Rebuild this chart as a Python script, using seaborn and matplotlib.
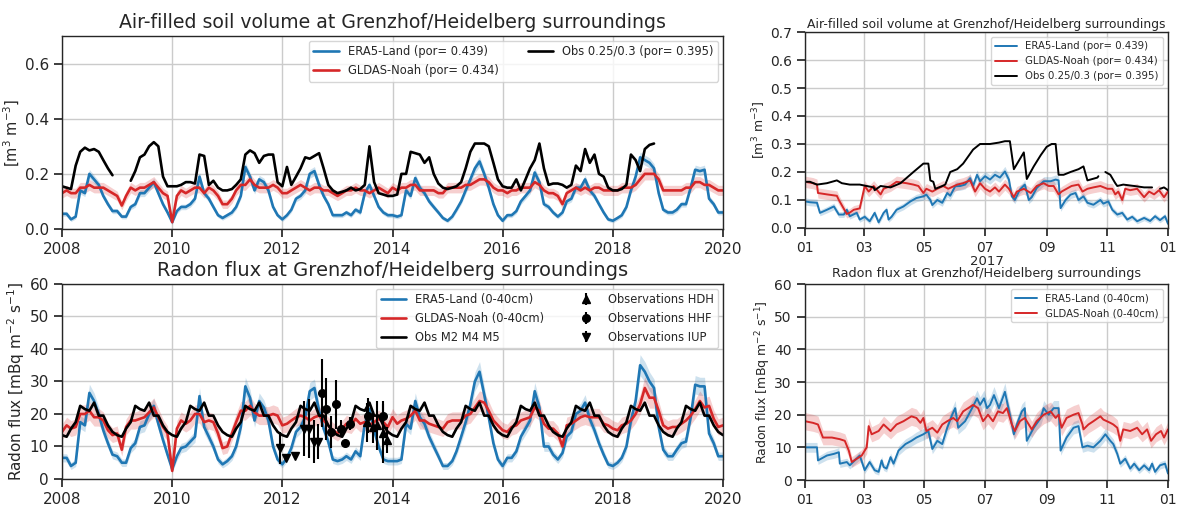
import numpy as np
import pandas as pd
import matplotlib
matplotlib.use("Agg")
import matplotlib.pyplot as plt
import matplotlib.dates as mdates
import seaborn as sns

# ---------------------------------------------------------------------------
# Monthly series 2008-01 .. 2020-01 (values at the start of each month)
# ---------------------------------------------------------------------------
era5_air = [
    0.055, 0.055, 0.035, 0.045, 0.14, 0.13, 0.20, 0.18, 0.16, 0.12, 0.09, 0.065,   # 2008
    0.065, 0.045, 0.045, 0.08, 0.09, 0.13, 0.13, 0.15, 0.17, 0.13, 0.09, 0.06,     # 2009
    0.025, 0.065, 0.08, 0.08, 0.09, 0.11, 0.19, 0.13, 0.11, 0.08, 0.05, 0.04,      # 2010
    0.05, 0.06, 0.08, 0.12, 0.225, 0.19, 0.14, 0.18, 0.17, 0.14, 0.08, 0.05,       # 2011
    0.035, 0.05, 0.07, 0.11, 0.12, 0.14, 0.20, 0.21, 0.16, 0.12, 0.09, 0.05,       # 2012
    0.05, 0.05, 0.06, 0.05, 0.07, 0.06, 0.13, 0.16, 0.12, 0.08, 0.06, 0.05,        # 2013
    0.05, 0.045, 0.05, 0.14, 0.12, 0.185, 0.15, 0.13, 0.10, 0.08, 0.06, 0.04,      # 2014
    0.03, 0.045, 0.07, 0.10, 0.14, 0.18, 0.22, 0.245, 0.20, 0.15, 0.09, 0.05,      # 2015
    0.03, 0.05, 0.05, 0.065, 0.10, 0.12, 0.14, 0.205, 0.17, 0.09, 0.08, 0.06,      # 2016
    0.045, 0.06, 0.10, 0.11, 0.15, 0.15, 0.18, 0.14, 0.12, 0.09, 0.06, 0.035,      # 2017
    0.03, 0.04, 0.05, 0.08, 0.14, 0.19, 0.26, 0.25, 0.24, 0.22, 0.13, 0.07,        # 2018
    0.06, 0.06, 0.07, 0.09, 0.09, 0.15, 0.215, 0.21, 0.215, 0.11, 0.09, 0.06,      # 2019
    0.06,                                                                          # 2020
]
gldas_air = [
    0.13, 0.14, 0.13, 0.13, 0.15, 0.15, 0.16, 0.15, 0.15, 0.15, 0.14, 0.13,
    0.12, 0.085, 0.12, 0.15, 0.14, 0.15, 0.15, 0.16, 0.17, 0.15, 0.13, 0.12,
    0.025, 0.12, 0.14, 0.13, 0.14, 0.15, 0.15, 0.13, 0.15, 0.14, 0.12, 0.09,
    0.09, 0.11, 0.14, 0.16, 0.16, 0.18, 0.16, 0.15, 0.15, 0.15, 0.16, 0.15,
    0.13, 0.13, 0.14, 0.15, 0.16, 0.15, 0.14, 0.15, 0.15, 0.14, 0.14, 0.13,
    0.12, 0.13, 0.14, 0.14, 0.15, 0.14, 0.14, 0.13, 0.14, 0.15, 0.14, 0.13,
    0.15, 0.14, 0.15, 0.15, 0.16, 0.16, 0.14, 0.14, 0.14, 0.14, 0.13, 0.13,
    0.15, 0.15, 0.15, 0.15, 0.16, 0.16, 0.17, 0.18, 0.18, 0.17, 0.15, 0.14,
    0.14, 0.13, 0.14, 0.14, 0.15, 0.15, 0.15, 0.17, 0.16, 0.14, 0.13, 0.13,
    0.12, 0.09, 0.13, 0.14, 0.15, 0.14, 0.15, 0.14, 0.15, 0.15, 0.14, 0.14,
    0.14, 0.14, 0.15, 0.15, 0.15, 0.16, 0.18, 0.20, 0.20, 0.20, 0.18, 0.14,
    0.14, 0.14, 0.14, 0.14, 0.15, 0.15, 0.17, 0.17, 0.16, 0.16, 0.15, 0.14,
    0.14,
]
nan = np.nan
obs_air = [
    0.155, 0.15, 0.145, 0.23, 0.28, 0.295, 0.285, 0.29, 0.28, 0.25, 0.22, 0.195,
    nan, nan, nan, 0.175, 0.21, 0.26, 0.27, 0.30, 0.315, 0.30, 0.19, 0.155,
    0.155, 0.155, 0.16, 0.17, 0.17, 0.165, 0.27, 0.265, 0.16, 0.175, 0.15, 0.14,
    0.14, 0.145, 0.16, 0.18, 0.27, 0.285, 0.275, 0.24, 0.265, 0.27, 0.27, 0.17,
    0.155, 0.225, 0.16, 0.19, 0.22, 0.26, 0.255, 0.265, 0.275, 0.22, 0.16, 0.14,
    0.13, 0.135, 0.14, 0.15, 0.14, 0.145, 0.16, 0.30, 0.17, 0.13, 0.125, 0.12,
    0.12, 0.125, 0.20, 0.20, 0.28, 0.275, 0.27, 0.24, 0.26, 0.20, 0.165, 0.15,
    0.145, 0.15, 0.155, 0.17, 0.22, 0.28, 0.31, 0.31, 0.31, 0.30, 0.24, 0.18,
    0.155, 0.15, 0.15, 0.18, 0.14, 0.18, 0.22, 0.25, 0.31, 0.22, 0.16, 0.165,
    0.165, 0.16, 0.15, 0.16, 0.23, 0.21, 0.29, 0.24, 0.27, 0.20, 0.19, 0.15,
    0.14, 0.14, 0.145, 0.16, 0.27, 0.25, 0.21, 0.29, 0.305, 0.31, nan, nan,
    nan, nan, nan, nan, nan, nan, nan, nan, nan, nan, nan, nan,
    nan,
]

era5_flux = [
    6.5, 6.5, 4.0, 5.0, 17.5, 16.5, 26.5, 24.0, 20.0, 15.0, 11.0, 7.5,
    7.0, 5.0, 5.0, 9.5, 11.0, 16.0, 16.5, 20.0, 22.5, 17.0, 12.0, 7.5,
    3.0, 7.0, 9.5, 10.0, 11.5, 13.0, 25.5, 16.0, 13.0, 10.0, 6.0, 4.5,
    5.5, 7.0, 10.0, 16.0, 28.5, 25.0, 18.0, 24.0, 22.0, 18.0, 10.0, 6.0,
    4.5, 6.5, 9.5, 14.5, 16.0, 19.0, 27.0, 28.0, 21.0, 15.5, 11.5, 6.0,
    5.5, 6.0, 7.0, 6.0, 8.5, 7.0, 17.0, 21.5, 15.0, 10.0, 6.0, 5.5,
    5.5, 5.5, 6.0, 17.0, 15.5, 24.0, 19.0, 17.0, 13.0, 10.0, 7.0, 4.0,
    4.0, 5.5, 8.5, 13.0, 17.5, 23.0, 30.0, 33.0, 26.0, 19.0, 11.0, 6.0,
    4.0, 6.5, 6.5, 8.5, 13.0, 15.5, 18.0, 27.0, 22.0, 10.0, 10.0, 7.5,
    6.0, 8.0, 13.0, 14.5, 20.0, 21.0, 23.5, 18.5, 15.0, 11.0, 7.5, 4.5,
    4.0, 5.0, 6.5, 10.0, 18.0, 24.0, 35.0, 33.0, 30.0, 28.0, 16.0, 9.0,
    7.0, 7.0, 9.0, 11.0, 11.5, 19.0, 29.0, 28.5, 28.5, 14.0, 11.0, 7.0,
    7.0,
]
gldas_flux = [
    14.5, 16.5, 15.5, 16.0, 20.0, 20.0, 21.0, 19.0, 19.0, 18.0, 15.0, 13.5,
    14.0, 9.0, 16.0, 18.0, 18.0, 18.5, 19.0, 20.5, 22.0, 19.0, 16.0, 14.0,
    2.5, 15.5, 18.0, 17.0, 18.0, 20.0, 20.0, 17.5, 18.0, 17.5, 14.0, 9.5,
    10.0, 14.0, 17.5, 21.0, 21.0, 22.5, 20.5, 19.5, 19.5, 19.5, 20.0, 19.5,
    16.5, 17.0, 18.0, 19.0, 19.5, 19.0, 18.0, 19.0, 19.5, 18.0, 16.5, 15.0,
    14.0, 15.5, 17.0, 16.5, 18.5, 17.0, 17.5, 16.5, 17.5, 18.5, 17.5, 16.0,
    19.0, 17.0, 18.0, 18.5, 19.5, 21.0, 18.0, 18.0, 17.0, 16.5, 16.0, 15.5,
    17.5, 18.0, 18.0, 18.0, 19.5, 20.0, 22.0, 24.0, 23.5, 21.0, 18.0, 16.5,
    15.0, 14.5, 16.0, 16.5, 18.0, 18.5, 19.0, 22.0, 21.0, 17.0, 15.5, 15.5,
    14.0, 10.0, 16.5, 17.0, 18.0, 19.0, 19.5, 19.0, 19.0, 19.0, 17.0, 16.5,
    15.5, 15.0, 16.5, 17.0, 18.0, 20.0, 23.0, 28.0, 25.0, 25.0, 21.0, 16.5,
    15.5, 16.0, 16.0, 17.0, 18.0, 19.5, 21.5, 24.0, 22.0, 22.5, 18.5, 16.0,
    16.5,
]
obs_flux = [
    13.5, 13.0, 15.5, 17.5, 22.5, 21.5, 21.0, 23.5, 19.5, 19.5, 16.5, 14.5,
    13.5, 13.0, 15.5, 17.5, 22.5, 21.5, 21.0, 23.5, 19.5, 19.5, 16.5, 14.5,
    13.5, 13.0, 15.5, 17.5, 22.5, 21.5, 21.0, 23.5, 19.5, 19.5, 16.5, 14.5,
    13.5, 13.0, 15.5, 17.5, 22.5, 21.5, 21.0, 23.5, 19.5, 19.5, 16.5, 14.5,
    13.5, 13.0, 15.5, 17.5, 22.5, 21.5, 21.0, 23.5, 19.5, 19.5, 16.5, 14.5,
    13.5, 13.0, 15.5, 17.5, 22.5, 21.5, 21.0, 23.5, 19.5, 19.5, 16.5, 14.5,
    13.5, 13.0, 15.5, 17.5, 22.5, 21.5, 21.0, 23.5, 19.5, 19.5, 16.5, 14.5,
    13.5, 13.0, 15.5, 17.5, 22.5, 21.5, 21.0, 23.5, 19.5, 19.5, 16.5, 14.5,
    13.5, 13.0, 15.5, 17.5, 22.5, 21.5, 21.0, 23.5, 19.5, 19.5, 16.5, 14.5,
    13.5, 13.0, 15.5, 17.5, 22.5, 21.5, 21.0, 23.5, 19.5, 19.5, 16.5, 14.5,
    13.5, 13.0, 15.5, 17.5, 22.5, 21.5, 21.0, 23.5, 19.5, 19.5, 16.5, 14.5,
    13.5, 13.0, 15.5, 17.5, 22.5, 21.5, 21.0, 23.5, 19.5, 19.5, 16.5, 14.5,
    13.5,
]

# Campaign measurements of radon flux (value, 1-sigma)
hdh_dates = ["2013-07-18", "2013-08-22", "2013-09-20", "2013-10-27", "2013-11-25"]
hdh_flux = [17.5, 16.0, 16.5, 14.0, 12.0]
hdh_err = [6.0, 5.0, 7.5, 9.0, 4.0]

hhf_dates = ["2012-09-20", "2012-10-19", "2012-11-17", "2012-12-20", "2013-01-22",
             "2013-02-21", "2013-03-22", "2013-07-20", "2013-10-27"]
hhf_flux = [26.5, 21.5, 14.5, 23.0, 15.5, 11.0, 17.0, 19.5, 19.5]
hhf_err = [10.5, 9.5, 5.0, 7.5, 2.5, 0.5, 2.0, 5.5, 4.5]

iup_dates = ["2011-12-17", "2012-01-23", "2012-03-22", "2012-05-27", "2012-06-25",
             "2012-07-31", "2012-08-26"]
iup_flux = [9.5, 6.5, 7.0, 15.5, 15.5, 11.5, 11.5]
iup_err = [5.0, 1.0, 0.5, 8.5, 9.0, 6.5, 5.5]

# ---------------------------------------------------------------------------
# 2017 detail (day of year, value)
# ---------------------------------------------------------------------------
era5_air_17_day = [0, 5, 12, 15, 22, 29, 34, 39, 42, 45, 52, 55, 60, 65, 70, 74, 79, 82, 84, 87,
                   92, 99, 106, 112, 119, 122, 126, 128, 133, 138, 143, 146, 151, 156, 161, 166,
                   169, 173, 176, 181, 186, 191, 196, 201, 205, 208, 211, 216, 221, 225, 228,
                   233, 240, 247, 252, 255, 257, 262, 267, 272, 275, 280, 284, 290, 297, 300,
                   305, 309, 314, 319, 324, 329, 334, 341, 347, 352, 357, 362, 365]
era5_air_17 = [0.095, 0.092, 0.09, 0.054, 0.065, 0.077, 0.048, 0.048, 0.065, 0.042, 0.054, 0.03,
               0.04, 0.024, 0.054, 0.02, 0.054, 0.065, 0.03, 0.04, 0.065, 0.077, 0.095, 0.107,
               0.113, 0.119, 0.1, 0.082, 0.1, 0.09, 0.125, 0.115, 0.149, 0.15, 0.155, 0.178,
               0.15, 0.19, 0.167, 0.185, 0.173, 0.19, 0.18, 0.202, 0.173, 0.113, 0.1, 0.137,
               0.155, 0.1, 0.11, 0.143, 0.167, 0.167, 0.173, 0.17, 0.071, 0.1, 0.119, 0.125,
               0.1, 0.113, 0.09, 0.083, 0.1, 0.087, 0.095, 0.065, 0.048, 0.054, 0.03, 0.04,
               0.024, 0.036, 0.025, 0.042, 0.028, 0.042, 0.015]

gldas_air_17_day = [0, 8, 12, 13, 22, 32, 34, 42, 45, 49, 55, 60, 64, 69, 76, 79, 86, 92, 102,
                    109, 114, 119, 122, 128, 133, 139, 144, 153, 159, 166, 171, 176, 181, 186,
                    191, 195, 201, 205, 210, 213, 220, 227, 233, 240, 245, 250, 255, 258, 263,
                    268, 275, 279, 284, 290, 297, 304, 309, 312, 315, 319, 322, 327, 334, 341,
                    346, 351, 356, 361, 365]
gldas_air_17 = [0.165, 0.16, 0.155, 0.125, 0.12, 0.115, 0.1, 0.05, 0.055, 0.065, 0.07, 0.15,
                0.13, 0.15, 0.12, 0.14, 0.15, 0.165, 0.16, 0.155, 0.15, 0.125, 0.14, 0.13,
                0.14, 0.15, 0.14, 0.155, 0.16, 0.17, 0.13, 0.16, 0.14, 0.13, 0.145, 0.13,
                0.155, 0.14, 0.11, 0.13, 0.14, 0.125, 0.15, 0.16, 0.15, 0.15, 0.12, 0.13,
                0.14, 0.15, 0.155, 0.13, 0.14, 0.145, 0.15, 0.14, 0.14, 0.12, 0.13, 0.10,
                0.14, 0.135, 0.14, 0.11, 0.13, 0.12, 0.135, 0.11, 0.13]

obs_air_17_day = [0, 5, 12, 22, 32, 37, 45, 55, 62, 69, 70, 76, 86, 96, 109, 114, 119, 124, 126,
                  129, 131, 138, 141, 146, 153, 159, 169, 176, 186, 195, 201, 206, 210, 215,
                  220, 223, 230, 237, 243, 248, 252, 255, 260, 267, 275, 280, 284, 294, 295,
                  298, 302, 307, 312, 314, 320, 331, 341, 349, 353, 357, 361, 365]
obs_air_17 = [0.165, 0.165, 0.155, 0.16, 0.17, 0.16, 0.155, 0.155, 0.15, 0.145, 0.135, 0.15,
              0.145, 0.16, 0.2, 0.215, 0.23, 0.23, 0.17, 0.165, 0.14, 0.15, 0.155, 0.2, 0.21,
              0.23, 0.28, 0.3, 0.3, 0.305, 0.31, 0.31, 0.21, 0.24, 0.27, 0.175, 0.22, 0.26,
              0.29, 0.3, 0.3, 0.19, 0.19, 0.2, 0.21, 0.22, 0.17, 0.18, 0.185, nan, 0.2, 0.19,
              0.16, 0.15, 0.155, 0.15, 0.145, 0.145, nan, 0.14, 0.145, 0.135]

era5_flux_17_day = [0, 12, 13, 22, 29, 34, 35, 42, 45, 55, 60, 65, 70, 74, 77, 79, 82, 86, 89,
                    94, 101, 107, 112, 119, 124, 128, 133, 138, 143, 148, 151, 154, 161, 168,
                    173, 176, 180, 183, 186, 190, 195, 201, 206, 210, 213, 218, 221, 223, 230,
                    237, 240, 245, 250, 255, 257, 263, 270, 275, 279, 284, 290, 297, 302, 307,
                    310, 314, 317, 322, 327, 331, 336, 341, 346, 349, 352, 357, 362, 365]
era5_flux_17 = [10.0, 10.0, 6.0, 7.5, 8.0, 8.5, 5.0, 5.5, 4.5, 7.5, 3.0, 5.5, 3.0, 2.5, 6.0,
                4.0, 3.5, 7.0, 5.0, 9.0, 11.0, 12.0, 13.0, 14.0, 15.0, 9.5, 12.0, 11.0, 16.0,
                20.0, 22.0, 16.0, 18.0, 22.0, 25.0, 23.0, 25.0, 22.0, 23.0, 26.0, 22.0, 27.0,
                20.0, 14.0, 17.0, 21.0, 22.0, 12.0, 16.0, 19.0, 22.0, 20.0, 22.0, 22.0, 9.0,
                13.0, 16.0, 16.5, 10.0, 10.5, 10.0, 12.0, 14.0, 12.0, 11.0, 8.0, 5.0, 6.5,
                3.5, 5.0, 3.0, 4.5, 3.0, 5.0, 2.5, 4.5, 5.0, 2.0]

gldas_flux_17_day = [0, 8, 13, 18, 27, 35, 40, 44, 47, 52, 57, 62, 64, 67, 74, 79, 86, 92, 99,
                     107, 112, 116, 119, 122, 128, 133, 138, 143, 149, 153, 159, 164, 169, 174,
                     179, 184, 189, 194, 199, 203, 208, 211, 216, 221, 228, 233, 240, 247, 252,
                     255, 258, 263, 270, 275, 279, 280, 285, 290, 297, 300, 307, 310, 314, 317,
                     320, 327, 334, 339, 344, 348, 353, 358, 361, 365]
gldas_flux_17 = [18.0, 17.5, 17.0, 13.0, 13.0, 12.5, 12.0, 9.0, 5.5, 6.5, 7.5, 10.0, 16.5, 14.0,
                 15.0, 17.0, 15.0, 17.0, 18.0, 19.5, 19.0, 17.5, 19.0, 15.0, 16.0, 14.5, 17.0,
                 18.0, 19.0, 18.0, 21.0, 22.0, 23.0, 22.0, 18.0, 20.0, 18.0, 21.0, 20.5, 22.0,
                 17.0, 15.0, 18.0, 19.0, 15.5, 18.0, 20.0, 21.0, 19.0, 20.0, 16.0, 19.0, 20.0,
                 20.5, 17.0, 15.5, 17.0, 18.0, 19.5, 18.5, 17.5, 17.0, 16.0, 12.0, 15.5, 15.0,
                 16.0, 14.0, 15.5, 12.0, 14.0, 15.0, 13.0, 15.5]

# ---------------------------------------------------------------------------
# Styling
# ---------------------------------------------------------------------------
BLUE = "#1f77b4"
RED = "#d62728"
BLACK = "black"

sns.set_theme(style="ticks", rc={
    "axes.edgecolor": "0.15",
    "xtick.color": "0.15",
    "ytick.color": "0.15",
    "axes.linewidth": 1.0,
})
plt.rcParams["font.family"] = ["DejaVu Sans"]

months = pd.date_range("2008-01-01", "2020-01-01", freq="MS")
t0 = pd.Timestamp("2017-01-01")


def day_axis(days):
    return t0 + pd.to_timedelta(np.asarray(days, dtype=float), unit="D")


def add_band(ax, x, y, abs_w, rel_w, color):
    y = np.asarray(y, dtype=float)
    w = abs_w + rel_w * y
    ax.fill_between(x, y - w, y + w, color=color, alpha=0.22, lw=0)


def model_line(ax, x, y, color, lw, label):
    sns.lineplot(x=x, y=np.asarray(y, dtype=float), ax=ax, color=color, lw=lw,
                 label=label, estimator=None, sort=False)


def style_grid(ax):
    ax.grid(True, color="#cbcbcb", lw=1.0)
    ax.set_axisbelow(True)


fig = plt.figure(figsize=(11.78, 5.08), dpi=100)
ax_air = fig.add_axes([0.0526, 0.5492, 0.5611, 0.3799])
ax_flux = fig.add_axes([0.0526, 0.0571, 0.5611, 0.3839])
ax_air17 = fig.add_axes([0.6834, 0.5512, 0.3081, 0.3858])
ax_flux17 = fig.add_axes([0.6834, 0.0551, 0.3081, 0.3858])

LW = 1.9

# --- air-filled soil volume, 2008-2020 ---
add_band(ax_air, months, era5_air, 0.006, 0.05, BLUE)
add_band(ax_air, months, gldas_air, 0.01, 0.06, RED)
model_line(ax_air, months, era5_air, BLUE, LW, "ERA5-Land (por= 0.439)")
model_line(ax_air, months, gldas_air, RED, LW, "GLDAS-Noah (por= 0.434)")
ax_air.plot(months, obs_air, color=BLACK, lw=LW, label="Obs 0.25/0.3 (por= 0.395)")
ax_air.set_ylim(0, 0.7)
ax_air.set_yticks([0.0, 0.2, 0.4, 0.6])
ax_air.set_ylabel("[m$^3$ m$^{-3}$]", fontsize=10.5, labelpad=2)
ax_air.set_title("Air-filled soil volume at Grenzhof/Heidelberg surroundings", fontsize=13.6)
ax_air.legend(ncol=2, loc="upper right", fontsize=8.3, handlelength=2.2,
              columnspacing=2.5, borderaxespad=0.4)

# --- radon flux, 2008-2020 ---
add_band(ax_flux, months, era5_flux, 0.8, 0.07, BLUE)
add_band(ax_flux, months, gldas_flux, 1.2, 0.08, RED)
model_line(ax_flux, months, era5_flux, BLUE, LW, "ERA5-Land (0-40cm)")
model_line(ax_flux, months, gldas_flux, RED, LW, "GLDAS-Noah (0-40cm)")
ax_flux.plot(months, obs_flux, color=BLACK, lw=LW, label="Obs M2 M4 M5")
eb_kw = dict(color=BLACK, ls="none", ms=5.5, elinewidth=1.5, capsize=0)
ax_flux.errorbar(pd.to_datetime(hdh_dates), hdh_flux, yerr=hdh_err, fmt="^",
                 label="Observations HDH", **eb_kw)
ax_flux.errorbar(pd.to_datetime(hhf_dates), hhf_flux, yerr=hhf_err, fmt="o",
                 label="Observations HHF", **eb_kw)
ax_flux.errorbar(pd.to_datetime(iup_dates), iup_flux, yerr=iup_err, fmt="v",
                 label="Observations IUP", **eb_kw)
ax_flux.set_ylim(0, 60)
ax_flux.set_yticks(range(0, 61, 10))
ax_flux.set_ylabel("Radon flux [mBq m$^{-2}$ s$^{-1}$]", fontsize=11, labelpad=2)
ax_flux.set_title("Radon flux at Grenzhof/Heidelberg surroundings", fontsize=14.0)
ax_flux.legend(ncol=2, loc="upper right", fontsize=8.3, handlelength=2.2,
               columnspacing=2.5, borderaxespad=0.4)

for ax in (ax_air, ax_flux):
    ax.set_xlim(pd.Timestamp("2008-01-01"), pd.Timestamp("2020-01-01"))
    ax.xaxis.set_major_locator(mdates.YearLocator(2))
    ax.xaxis.set_major_formatter(mdates.DateFormatter("%Y"))
    ax.set_xlabel("")
    ax.tick_params(labelsize=11)
    style_grid(ax)

# --- 2017 detail panels ---
LW2 = 1.4
x_era_a = day_axis(era5_air_17_day)
x_gld_a = day_axis(gldas_air_17_day)
add_band(ax_air17, x_era_a, era5_air_17, 0.008, 0.05, BLUE)
add_band(ax_air17, x_gld_a, gldas_air_17, 0.012, 0.05, RED)
model_line(ax_air17, x_era_a, era5_air_17, BLUE, LW2, "ERA5-Land (por= 0.439)")
model_line(ax_air17, x_gld_a, gldas_air_17, RED, LW2, "GLDAS-Noah (por= 0.434)")
ax_air17.plot(day_axis(obs_air_17_day), obs_air_17, color=BLACK, lw=LW2,
              label="Obs 0.25/0.3 (por= 0.395)")
ax_air17.set_ylim(0, 0.7)
ax_air17.set_yticks(np.arange(0, 0.71, 0.1))
ax_air17.set_ylabel("[m$^3$ m$^{-3}$]", fontsize=9, labelpad=1)
ax_air17.set_title("Air-filled soil volume at Grenzhof/Heidelberg surroundings",
                   fontsize=8.9, pad=3)
ax_air17.legend(loc="upper right", fontsize=7.3, handlelength=2.2)

x_era_f = day_axis(era5_flux_17_day)
x_gld_f = day_axis(gldas_flux_17_day)
add_band(ax_flux17, x_era_f, era5_flux_17, 0.8, 0.07, BLUE)
add_band(ax_flux17, x_gld_f, gldas_flux_17, 1.2, 0.08, RED)
model_line(ax_flux17, x_era_f, era5_flux_17, BLUE, LW2, "ERA5-Land (0-40cm)")
model_line(ax_flux17, x_gld_f, gldas_flux_17, RED, LW2, "GLDAS-Noah (0-40cm)")
ax_flux17.set_ylim(0, 60)
ax_flux17.set_yticks(range(0, 61, 10))
ax_flux17.set_ylabel("Radon flux [mBq m$^{-2}$ s$^{-1}$]", fontsize=9, labelpad=1)
ax_flux17.set_title("Radon flux at Grenzhof/Heidelberg surroundings", fontsize=9.2, pad=5)
ax_flux17.legend(loc="upper right", fontsize=7.3, handlelength=2.2)

for ax in (ax_air17, ax_flux17):
    ax.set_xlim(t0, pd.Timestamp("2018-01-01"))
    ax.xaxis.set_major_locator(mdates.MonthLocator(bymonth=[1, 3, 5, 7, 9, 11]))
    ax.xaxis.set_major_formatter(mdates.DateFormatter("%m"))
    ax.set_xlabel("2017", fontsize=9.5, labelpad=0)
    ax.tick_params(labelsize=10)
    style_grid(ax)

fig.savefig("out.png", dpi=100)
